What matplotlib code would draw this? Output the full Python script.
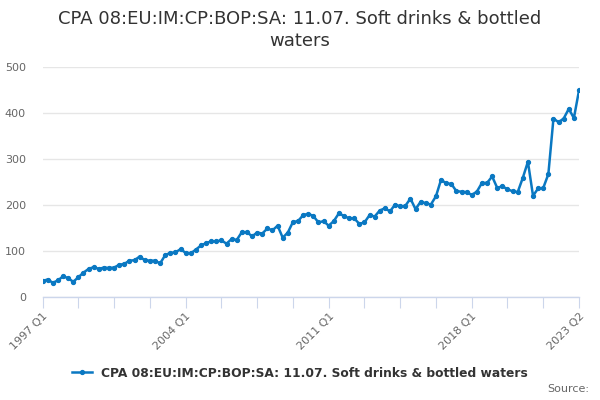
import matplotlib.pyplot as plt

# quarterly series, 1997 Q1 .. 2023 Q2
years = list(range(1997, 2024))
quarters = [f"{y} Q{q}" for y in years for q in range(1, 5)][:106]

values = [35, 38, 31, 36, 45, 41, 33, 43, 53, 61,
          65, 61, 64, 63, 64, 70, 72, 79, 80, 88,
          80, 79, 79, 73, 91, 96, 97, 104, 96, 95,
          103, 112, 117, 121, 121, 123, 116, 126, 124, 141,
          141, 132, 140, 138, 149, 145, 155, 129, 140, 163,
          165, 178, 181, 176, 162, 165, 155, 165, 182, 176,
          171, 171, 159, 162, 178, 175, 188, 193, 186, 201,
          197, 198, 214, 191, 207, 204, 201, 219, 255, 247,
          246, 230, 229, 228, 222, 229, 248, 248, 262, 237,
          241, 234, 230, 228, 259, 294, 220, 236, 237, 267,
          388, 380, 388, 409, 389, 449]

title = "CPA 08:EU:IM:CP:BOP:SA: 11.07. Soft drinks & bottled\nwaters"
series_name = "CPA 08:EU:IM:CP:BOP:SA: 11.07. Soft drinks & bottled waters"
y_ticks = [0, 100, 200, 300, 400, 500]
label_idx = [0, 28, 56, 84, 105]

blue = "#0a78c2"
grey = "#666666"
axis_col = "#ccd6eb"

fig = plt.figure(figsize=(6, 4), dpi=100)
ax = fig.add_axes([0.071, 0.2575, 0.894, 0.575])

x = list(range(len(values)))
line, = ax.plot(x, values, color=blue, lw=1.8, marker="o", markersize=2.8,
                label=series_name)

ax.set_xlim(0, len(values) - 1)
ax.set_ylim(0, 500)
ax.set_yticks(y_ticks)
ax.set_yticklabels([str(v) for v in y_ticks], color=grey, fontsize=8)
ax.yaxis.grid(True, color="#e6e6e6", lw=1)
ax.set_axisbelow(True)
ax.tick_params(axis="y", length=0, pad=12)

ax.set_xticks(list(range(0, len(values), 7)))
ax.set_xticklabels([quarters[i] if i in label_idx else "" for i in range(0, len(values), 7)],
                   rotation=45, ha="right", rotation_mode="anchor",
                   color=grey, fontsize=8)
ax.tick_params(axis="x", length=8, color=axis_col, pad=2)

for side in ["left", "right", "top"]:
    ax.spines[side].set_visible(False)
ax.spines["bottom"].set_color(axis_col)
ax.spines["bottom"].set_linewidth(1)

fig.text(0.5, 0.975, title, ha="center", va="top", fontsize=13, color="#333333",
         linespacing=1.3)

fig.legend(handles=[line], loc="center", bbox_to_anchor=(0.5, 0.067),
           frameon=False, handlelength=1.6,
           prop={"weight": "bold", "size": 8.8})
leg = fig.legends[0]
for t in leg.get_texts():
    t.set_color("#333333")

fig.text(0.982, 0.027, "Source:", ha="right", va="center", fontsize=8, color=grey)

fig.savefig("out.png", dpi=100)
